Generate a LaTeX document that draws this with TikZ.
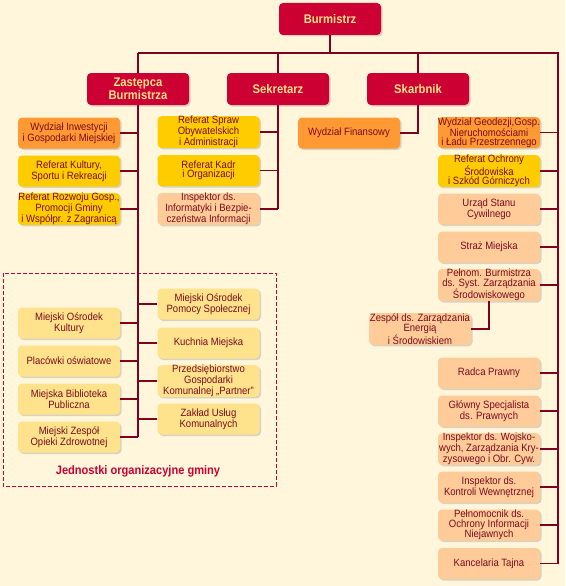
\documentclass[tikz,border=0pt]{standalone}
\usepackage{fontspec}
\setmainfont{Liberation Sans}[FakeStretch=0.9]
\usetikzlibrary{shadows}
\definecolor{bgcream}{HTML}{FFF6DC}
\definecolor{boxred}{HTML}{CC0033}
\definecolor{headtext}{HTML}{FFE38C}
\definecolor{lineclr}{HTML}{800020}
\definecolor{txtclr}{HTML}{7A0A1E}
\definecolor{orangebox}{HTML}{FF9933}
\definecolor{yellowbox}{HTML}{FFCC00}
\definecolor{peachbox}{HTML}{FFCC99}
\definecolor{paleyellow}{HTML}{FFE38C}
\begin{document}
\begin{tikzpicture}[x=1pt,y=-1pt,
  every node/.style={inner sep=0pt, align=center},
  unit/.style={rounded corners=4pt, minimum width=102pt, minimum height=31pt,
    text=txtclr, font=\fontsize{10.6}{9.4}\selectfont,
    drop shadow={shadow xshift=1.5pt, shadow yshift=-1.5pt, opacity=0.3}},
  head/.style={unit, fill=boxred, text=headtext, minimum height=32pt,
    font=\bfseries\fontsize{12.5}{12.5}\selectfont},
  orng/.style={unit, fill=orangebox},
  yell/.style={unit, fill=yellowbox},
  pch/.style={unit, fill=peachbox},
  pale/.style={unit, fill=paleyellow},
  link/.style={draw=lineclr, line width=1.3pt}]
  \fill [bgcream] (0,0) rectangle (565,586);
  \draw [boxred, dash pattern=on 4pt off 2pt, line width=0.8pt] (3,273) rectangle (276,486);
  \coordinate (topL) at (138,53);
  \coordinate (topR) at (558,53);
  \node [head] (burm) at (330,19) {Burmistrz};
  \node [head] (zast) at (138,89) {Zastępca\\Burmistrza};
  \node [head] (sekr) at (278,89) {Sekretarz};
  \node [head] (skarb) at (418,89) {Skarbnik};
  \node [orng] (wydzInw) at (69,133) {Wydział Inwestycji\\i Gospodarki Miejskiej};
  \node [yell] (refKult) at (69,171) {Referat Kultury,\\Sportu i Rekreacji};
  \node [yell] (refRozw) at (69,209) {Referat Rozwoju Gosp.,\\Promocji Gminy\\i Współpr. z Zagranicą};
  \node [yell] (refSpraw) at (208.5,132) {Referat Spraw\\Obywatelskich\\i Administracji};
  \node [yell] (refKadr) at (208.5,170.5) {Referat Kadr\\i Organizacji};
  \node [pch] (inspInf) at (208.5,209) {Inspektor ds.\\Informatyki i Bezpie-\\czeństwa Informacji};
  \node [orng] (wydzFin) at (349,133) {Wydział Finansowy};
  \node [orng] (wydzGeo) at (489,132.5) {Wydział Geodezji,Gosp.\\Nieruchomościami\\i Ładu Przestrzennego};
  \node [yell] (refOchr) at (489,171) {Referat Ochrony\\Środowiska\\i Szkód Górniczych};
  \node [pch] (urzad) at (489,209) {Urząd Stanu\\Cywilnego};
  \node [pch] (straz) at (489,247) {Straż Miejska};
  \node [pch] (pelnBurm) at (489,285) {Pełnom. Burmistrza\\ds. Syst. Zarządzania\\Środowiskowego};
  \node [pch] (zespEn) at (420,329) {Zespół ds. Zarządzania\\Energią\\i Środowiskiem};
  \node [pch] (radca) at (489,373) {Radca Prawny};
  \node [pch] (glowny) at (489,411) {Główny Specjalista\\ds. Prawnych};
  \node [pch] (inspWoj) at (489,449) {Inspektor ds. Wojsko-\\wych, Zarządzania Kry-\\zysowego i Obr. Cyw.};
  \node [pch] (inspKon) at (489,487) {Inspektor ds.\\Kontroli Wewnętrznej};
  \node [pch] (pelnInf) at (489,525) {Pełnomocnik ds.\\Ochrony Informacji\\Niejawnych};
  \node [pch] (kanc) at (489,563.5) {Kancelaria Tajna};
  \node [pale] (osrKult) at (69,323) {Miejski Ośrodek\\Kultury};
  \node [pale] (placowki) at (69,361) {Placówki oświatowe};
  \node [pale] (biblio) at (69,399) {Miejska Biblioteka\\Publiczna};
  \node [pale] (zespZdr) at (69,437) {Miejski Zespół\\Opieki Zdrowotnej};
  \node [pale] (osrPom) at (208.5,304) {Miejski Ośrodek\\Pomocy Społecznej};
  \node [pale] (kuchnia) at (208.5,343) {Kuchnia Miejska};
  \node [pale] (przeds) at (208.5,381) {Przedsiębiorstwo\\Gospodarki\\Komunalnej „Partner”};
  \node [pale] (zaklad) at (208.5,419) {Zakład Usług\\Komunalnych};
  \node [text=boxred, font=\bfseries\fontsize{12.3}{12}\selectfont] (jedn) at (138,471) {Jednostki organizacyjne gminy};
  \draw [link] (burm.south) -- (burm.south |- topL);
  \draw [link] (topL) -- (topR) -- (topR |- kanc.east) -- (kanc.east);
  \draw [link] (topL) -- (zast.north);
  \draw [link] (sekr.north) -- (sekr.north |- topL);
  \draw [link] (skarb.north) -- (skarb.north |- topL);
  \draw [link] (zast.south) -- (zast.south |- zespZdr.east);
  \foreach \n in {wydzInw, refKult, refRozw, osrKult, placowki, biblio, zespZdr}
    \draw [link] (\n.east) -- (\n.east -| zast.south);
  \foreach \n in {osrPom, kuchnia, przeds, zaklad}
    \draw [link] (\n.west) -- (\n.west -| zast.south);
  \draw [link] (sekr.south) -- (sekr.south |- inspInf.east);
  \foreach \n in {refSpraw, refKadr, inspInf}
    \draw [link] (\n.east) -- (\n.east -| sekr.south);
  \draw [link] (skarb.south) |- (wydzFin.east);
  \foreach \n in {wydzGeo, refOchr, urzad, straz, pelnBurm, radca, glowny, inspWoj, inspKon, pelnInf}
    \draw [link] (\n.east) -- (\n.east -| topR);
  \draw [link] (zespEn.east) -| (pelnBurm.south);
\end{tikzpicture}
\end{document}
